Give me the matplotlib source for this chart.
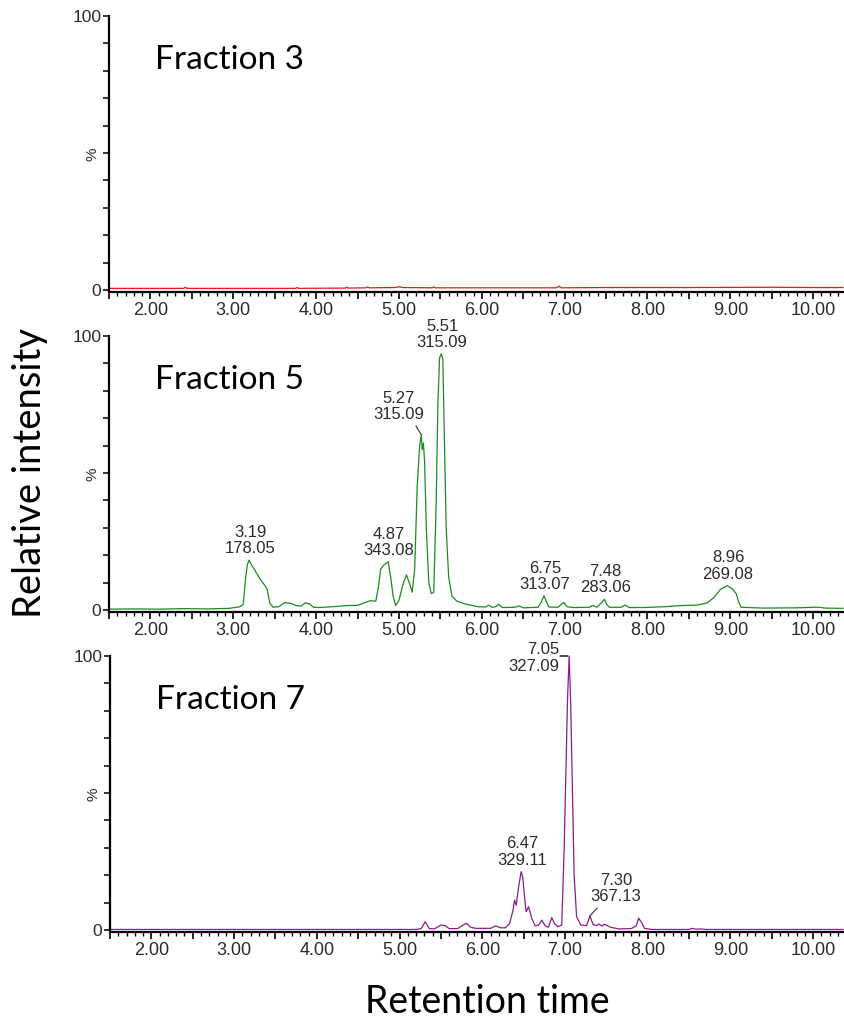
import numpy as np
import matplotlib
matplotlib.use("Agg")
import matplotlib.pyplot as plt
from matplotlib.ticker import MultipleLocator, FuncFormatter

# chromatogram traces: retention time (min) / relative intensity (%)
f3_time = [1.50, 2.40, 2.42, 2.44, 3.75, 3.77, 3.79, 4.35, 4.37, 4.39, 4.60, 4.62,
           4.64, 4.95, 5.00, 5.05, 5.40, 5.42, 5.44, 6.00, 6.90, 6.93, 6.96, 7.50,
           8.50, 9.50, 10.00, 10.36]
f3_int = [0.6, 0.6, 1.0, 0.6, 0.6, 0.9, 0.6, 0.7, 1.0, 0.7, 0.8, 1.1,
          0.8, 0.9, 1.2, 0.9, 0.8, 1.1, 0.8, 0.8, 0.8, 1.4, 0.8, 0.9,
          0.9, 1.0, 0.9, 0.9]

f5_time = [1.50, 1.80, 2.10, 2.40, 2.70, 2.95, 3.08, 3.12, 3.15, 3.17, 3.19, 3.21,
           3.26, 3.32, 3.38, 3.41, 3.44, 3.48, 3.55, 3.62, 3.70, 3.76, 3.82, 3.87,
           3.92, 3.97, 4.05, 4.20, 4.35, 4.50, 4.58, 4.65, 4.72, 4.75, 4.78, 4.82,
           4.87, 4.90, 4.93, 4.96, 5.00, 5.05, 5.09, 5.13, 5.16, 5.19, 5.22, 5.25,
           5.27, 5.28, 5.295, 5.31, 5.33, 5.36, 5.39, 5.42, 5.45, 5.47, 5.49, 5.51,
           5.53, 5.55, 5.57, 5.60, 5.64, 5.70, 5.80, 5.95, 6.05, 6.08, 6.12, 6.17,
           6.20, 6.25, 6.40, 6.45, 6.50, 6.68, 6.72, 6.75, 6.78, 6.81, 6.92, 6.96,
           6.99, 7.03, 7.10, 7.30, 7.34, 7.39, 7.44, 7.48, 7.51, 7.54, 7.68, 7.73,
           7.78, 7.95, 8.20, 8.40, 8.60, 8.72, 8.80, 8.88, 8.96, 9.02, 9.07, 9.10,
           9.13, 9.40, 9.80, 10.02, 10.08, 10.14, 10.36]
f5_int = [0.3, 0.4, 0.3, 0.5, 0.4, 0.6, 1.2, 2.0, 12.0, 16.5, 18.2, 17.0,
          14.5, 11.5, 9.0, 7.5, 2.5, 1.0, 1.2, 2.7, 2.4, 1.6, 1.4, 2.6,
          2.2, 1.0, 0.9, 1.2, 1.6, 1.7, 2.6, 3.4, 3.2, 8.0, 15.0, 16.5,
          17.6, 12.0, 5.0, 1.6, 3.5, 9.5, 12.8, 9.5, 6.5, 15.0, 45.0, 60.0,
          63.9, 58.5, 61.0, 54.0, 30.0, 10.0, 6.0, 6.5, 40.0, 75.0, 92.0, 93.5,
          91.5, 60.0, 30.0, 12.0, 5.0, 3.2, 2.2, 1.2, 1.1, 1.8, 1.0, 1.2,
          2.1, 0.9, 1.0, 1.5, 0.8, 1.0, 3.0, 5.2, 3.0, 1.1, 1.0, 2.1,
          2.7, 1.2, 0.9, 1.0, 1.7, 1.0, 2.5, 3.9, 2.0, 1.0, 1.0, 1.8,
          0.9, 0.9, 1.2, 1.6, 1.8, 2.6, 4.5, 7.5, 8.9, 7.8, 6.0, 3.0,
          1.0, 0.7, 0.8, 1.0, 1.0, 0.7, 0.6]

f7_time = [1.50, 5.20, 5.26, 5.31, 5.36, 5.42, 5.50, 5.55, 5.60, 5.70, 5.78, 5.81,
           5.86, 5.92, 6.10, 6.16, 6.22, 6.28, 6.33, 6.37, 6.39, 6.41, 6.44, 6.47,
           6.49, 6.51, 6.53, 6.56, 6.60, 6.64, 6.68, 6.72, 6.76, 6.80, 6.84, 6.87,
           6.91, 6.96, 6.99, 7.01, 7.03, 7.05, 7.07, 7.09, 7.11, 7.14, 7.19, 7.26,
           7.30, 7.34, 7.38, 7.41, 7.45, 7.47, 7.51, 7.55, 7.65, 7.80, 7.86, 7.89,
           7.93, 7.96, 8.05, 8.50, 8.54, 8.58, 8.64, 8.70, 10.36]
f7_int = [0.2, 0.2, 0.5, 3.0, 0.5, 0.4, 1.8, 1.6, 0.5, 0.5, 2.0, 2.4,
          1.0, 0.6, 0.6, 1.5, 0.8, 0.8, 2.4, 7.0, 10.9, 9.0, 16.0, 21.3,
          19.0, 12.2, 6.7, 8.5, 4.0, 1.5, 1.8, 3.6, 1.5, 1.0, 4.5, 2.5,
          1.2, 1.8, 30.0, 57.0, 84.0, 100.0, 81.0, 50.0, 20.0, 4.9, 1.8, 1.6,
          5.1, 2.0, 1.6, 2.2, 1.4, 2.1, 1.6, 1.0, 0.4, 0.5, 1.5, 4.3,
          2.5, 0.6, 0.2, 0.2, 0.6, 0.3, 0.4, 0.2, 0.2]

# labelled peaks: retention time and m/z
f5_peak_rt = [3.19, 4.87, 5.27, 5.51, 6.75, 7.48, 8.96]
f5_peak_mz = [178.05, 343.08, 315.09, 315.09, 313.07, 283.06, 269.08]
f7_peak_rt = [6.47, 7.05, 7.30]
f7_peak_mz = [329.11, 327.09, 367.13]

titles = ["Fraction 3", "Fraction 5", "Fraction 7"]
colors = ["#e8141b", "#1f8a1f", "#8e1a8e"]

TICK_FONT = "Liberation Sans"
BIG_FONT = "Lato"
TXT = "#2b2b2b"

fig = plt.figure(figsize=(8.44, 10.18), dpi=100)
W, H = 844.0, 1018.0


def make_axes(top_px, zero_px, left_px=109):
    ymin = -0.7
    scale = (zero_px - top_px) / 100.0
    bottom_px = zero_px - ymin * scale
    ax = fig.add_axes([left_px / W, 1 - bottom_px / H,
                       (843 - left_px) / W, (bottom_px - top_px) / H])
    ax.set_xlim(1.5, 10.36)
    ax.set_ylim(ymin, 100)
    for s in ["top", "right"]:
        ax.spines[s].set_visible(False)
    for s in ["left", "bottom"]:
        ax.spines[s].set_linewidth(1.6)
        ax.spines[s].set_color("black")
    ax.spines["left"].set_bounds(0, 100)

    ax.xaxis.set_major_locator(MultipleLocator(0.5))
    ax.xaxis.set_minor_locator(MultipleLocator(0.1))
    ax.xaxis.set_major_formatter(FuncFormatter(
        lambda v, p: "%.2f" % v if abs(v - round(v)) < 1e-6 else ""))
    ax.tick_params(axis="x", which="major", length=5, width=1.2, pad=2.5,
                   labelsize=13, labelcolor=TXT, direction="out")
    ax.tick_params(axis="x", which="minor", length=2.8, width=1.0, direction="out")

    ax.set_yticks(np.arange(0, 101, 10))
    ax.set_yticklabels(["0" if v == 0 else "100" if v == 100 else ""
                        for v in range(0, 101, 10)])
    ax.tick_params(axis="y", length=4, width=1.1, pad=1.5, labelsize=12.5,
                   labelcolor=TXT, direction="out")
    for lab in ax.get_xticklabels() + ax.get_yticklabels():
        lab.set_fontfamily(TICK_FONT)
    ax.text(-0.022, 0.5, "%", transform=ax.transAxes, rotation=90,
            ha="center", va="center", fontsize=11, color=TXT, family=TICK_FONT)
    return ax


ax3 = make_axes(16, 290)
ax5 = make_axes(336, 610)
ax7 = make_axes(656, 930, left_px=110)
axes = [ax3, ax5, ax7]

traces = [(f3_time, f3_int), (f5_time, f5_int), (f7_time, f7_int)]
for ax, (t, y), c, title in zip(axes, traces, colors, titles):
    ax.plot(t, y, color=c, lw=0.9, clip_on=False)
    ax.text(2.06, 84, title, fontsize=24, family=BIG_FONT, color="black",
            ha="left", va="center")


def label_peaks(ax, rts, mzs, trace, styles):
    t, y = trace
    for rt, mz, st in zip(rts, mzs, styles):
        h = float(np.interp(rt, t, y))
        dx, dy, ha, va, line = st
        kw = {}
        if line is not None:
            kw["arrowprops"] = dict(arrowstyle="-", color="#333333", lw=0.8,
                                    shrinkA=1, shrinkB=0, relpos=line)
        ax.annotate("%.2f\n%.2f" % (rt, mz), xy=(rt, h), xytext=(dx, dy),
                    textcoords="offset pixels", ha=ha, va=va, fontsize=12,
                    family=TICK_FONT, color=TXT, linespacing=1.1,
                    annotation_clip=False, **kw)


# text offsets (px), alignment and optional leader anchor
f5_styles = [(1, 4, "center", "bottom", None),
             (1, 4, "center", "bottom", None),
             (-23, 13, "center", "bottom", (0.8, 0.0)),
             (1, 4, "center", "bottom", None),
             (1, 4, "center", "bottom", None),
             (1, 4, "center", "bottom", None),
             (1, 4, "center", "bottom", None)]
f7_styles = [(1, 4, "center", "bottom", None),
             (-10, -2, "right", "center", None),
             (26, 12, "center", "bottom", (0.2, 0.0))]

label_peaks(ax5, f5_peak_rt, f5_peak_mz, traces[1], f5_styles)
label_peaks(ax7, f7_peak_rt, f7_peak_mz, traces[2], f7_styles)

# short marker beside the base peak of fraction 7
ax7.annotate("", xy=(f7_peak_rt[1], 100), xytext=(-9, 0), textcoords="offset pixels",
             xycoords="data", annotation_clip=False,
             arrowprops=dict(arrowstyle="-", color="black", lw=1.0,
                             shrinkA=0, shrinkB=-1))

fig.text(30 / W, 1 - 473 / H, "Relative intensity", rotation=90, fontsize=27.5,
         family=BIG_FONT, ha="center", va="center")
fig.text(487 / W, 1 - 1002 / H, "Retention time", fontsize=27,
         family=BIG_FONT, ha="center", va="center")

fig.savefig("out.png", dpi=100, facecolor="white")
